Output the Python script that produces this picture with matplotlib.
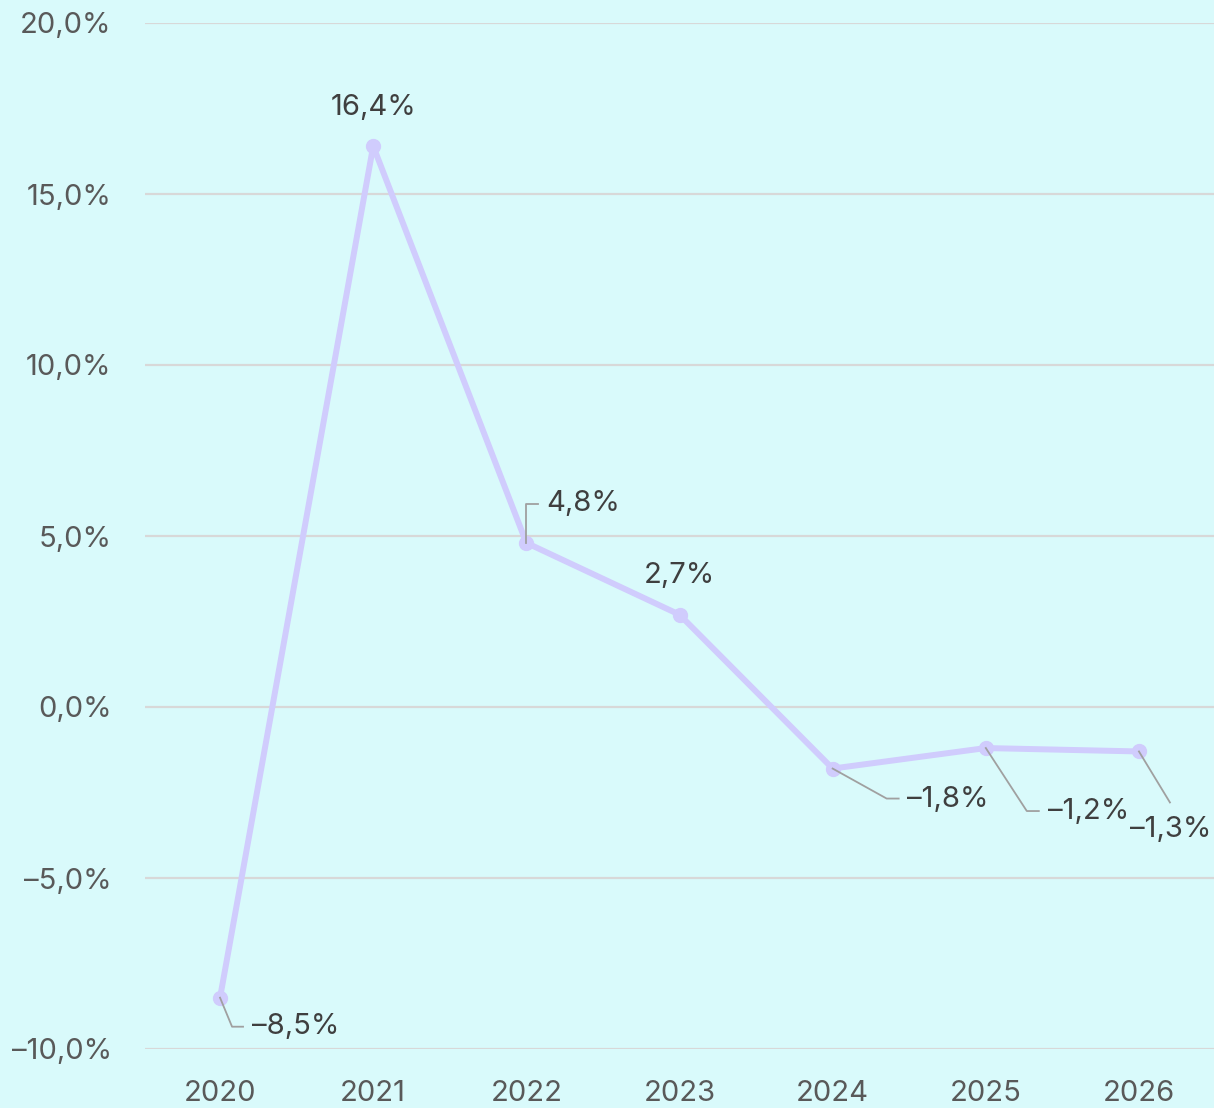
import matplotlib

matplotlib.use("Agg")

from matplotlib import pyplot as plt

years = ["2020", "2021", "2022", "2023", "2024", "2025", "2026"]
growth = [-8.5, 16.4, 4.8, 2.7, -1.8, -1.2, -1.3]
y_ticks = [-10, -5, 0, 5, 10, 15, 20]

BG = "#d9fafb"
LINE = "#d0ccfd"
GRID = "#d8d8d8"
TEXT = "#3f3f3f"
TICK = "#595959"
LEADER = "#a0a0a0"

plt.rcParams["font.family"] = ["Inter", "DejaVu Sans"]


def pct(v, decimals=1):
    s = f"{abs(v):.{decimals}f}".replace(".", ",") + "%"
    return ("\u2013" + s) if v < 0 else s


fig = plt.figure(figsize=(12.14, 11.08), dpi=100, facecolor=BG)
ax = fig.add_axes([145 / 1214, 59 / 1108, 1069 / 1214, 1026 / 1108])
ax.set_facecolor(BG)

x = list(range(len(years)))
ax.plot(x, growth, color=LINE, lw=4.3, marker="o", ms=10, zorder=3,
        solid_joinstyle="round", solid_capstyle="round")

ax.set_xlim(-0.49, 6.49)
ax.set_ylim(-10, 20)
ax.set_yticks(y_ticks)
ax.set_yticklabels([pct(v) for v in y_ticks])
ax.set_xticks(x)
ax.set_xticklabels(years)
ax.tick_params(axis="y", length=0, pad=24, labelsize=21, labelcolor=TICK)
ax.tick_params(axis="x", length=0, pad=22, labelsize=21, labelcolor=TICK)
ax.grid(axis="y", color=GRID, lw=1.6)
ax.set_axisbelow(True)
for s in ax.spines.values():
    s.set_visible(False)

# label placement in pixel offsets from each point: text offset, leader path, alignment
labels = [
    ((32, -29), [(0, 0), (12, -29), (23, -29)], "left"),
    ((0, 39), None, "center"),
    ((20, 39), [(0, 0), (0, 39), (12, 39)], "left"),
    ((0, 39), None, "center"),
    ((74, -31), [(0, 0), (54, -30), (66, -30)], "left"),
    ((62, -63), [(0, 0), (41, -63), (53, -63)], "left"),
    ((32, -78), [(0, 0), (31, -51)], "center"),
]

to_disp = ax.transData.transform
to_data = ax.transData.inverted().transform

for i, ((dx, dy), path, ha) in enumerate(labels):
    px, py = to_disp((x[i], growth[i]))
    tx, ty = to_data((px + dx, py + dy))
    ax.text(tx, ty, pct(growth[i]), ha=ha, va="center", fontsize=21,
            color=TEXT, zorder=5)
    if path:
        pts = [to_data((px + a, py + b)) for a, b in path]
        ax.plot([p[0] for p in pts], [p[1] for p in pts], color=LEADER,
                lw=1.3, zorder=4)

fig.savefig("out.png", dpi=100, facecolor=BG)
